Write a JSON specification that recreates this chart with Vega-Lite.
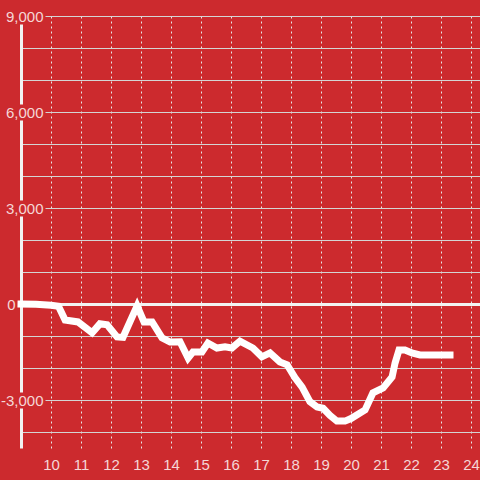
{
  "$schema": "https://vega.github.io/schema/vega-lite/v6.json",
  "width": 459,
  "height": 432,
  "autosize": {"type": "none"},
  "padding": {"left": 21, "top": 16, "right": 0, "bottom": 32},
  "background": "#cc2a2e",
  "config": {
    "view": {"stroke": null},
    "font": "Liberation Sans"
  },
  "data": {
    "values": [
      {"h": 9.0, "v": 0},
      {"h": 9.5, "v": -10},
      {"h": 10.0, "v": -40},
      {"h": 10.25, "v": -70},
      {"h": 10.47, "v": -500},
      {"h": 10.9, "v": -560},
      {"h": 11.37, "v": -900},
      {"h": 11.63, "v": -620},
      {"h": 11.87, "v": -650},
      {"h": 12.2, "v": -1030},
      {"h": 12.4, "v": -1040},
      {"h": 12.87, "v": -60},
      {"h": 13.1, "v": -560},
      {"h": 13.37, "v": -560},
      {"h": 13.7, "v": -1060},
      {"h": 13.97, "v": -1190},
      {"h": 14.3, "v": -1180},
      {"h": 14.57, "v": -1690},
      {"h": 14.73, "v": -1500},
      {"h": 15.03, "v": -1500},
      {"h": 15.23, "v": -1220},
      {"h": 15.53, "v": -1375},
      {"h": 15.8, "v": -1340},
      {"h": 16.03, "v": -1375},
      {"h": 16.3, "v": -1160},
      {"h": 16.73, "v": -1375},
      {"h": 17.03, "v": -1650},
      {"h": 17.3, "v": -1530},
      {"h": 17.63, "v": -1810},
      {"h": 17.87, "v": -1900},
      {"h": 18.13, "v": -2300},
      {"h": 18.37, "v": -2600},
      {"h": 18.63, "v": -3050},
      {"h": 18.87, "v": -3220},
      {"h": 19.07, "v": -3260},
      {"h": 19.3, "v": -3480},
      {"h": 19.53, "v": -3660},
      {"h": 19.8, "v": -3660},
      {"h": 20.0, "v": -3580},
      {"h": 20.47, "v": -3310},
      {"h": 20.73, "v": -2780},
      {"h": 21.07, "v": -2625},
      {"h": 21.37, "v": -2280},
      {"h": 21.47, "v": -1840},
      {"h": 21.6, "v": -1440},
      {"h": 21.8, "v": -1440},
      {"h": 22.03, "v": -1530},
      {"h": 22.3, "v": -1590},
      {"h": 23.3, "v": -1590}
    ]
  },
  "mark": {"type": "line", "color": "#ffffff", "strokeWidth": 7, "strokeCap": "square", "strokeJoin": "miter"},
  "encoding": {
    "x": {
      "field": "h",
      "type": "quantitative",
      "scale": {"domain": [9, 24.3], "nice": false, "zero": false},
      "axis": {
        "title": null,
        "values": [10, 11, 12, 13, 14, 15, 16, 17, 18, 19, 20, 21, 22, 23, 24],
        "domain": false,
        "ticks": false,
        "tickSize": 0,
        "labelPadding": 9,
        "labelFontSize": 15,
        "labelColor": "#f5d6d6",
        "labelFont": "Liberation Sans",
        "grid": true,
        "gridColor": "#e6e6e6",
        "gridDash": [2, 3],
        "gridWidth": 1
      }
    },
    "y": {
      "field": "v",
      "type": "quantitative",
      "scale": {"domain": [-4500, 9000], "nice": false, "zero": false},
      "axis": {
        "title": null,
        "values": [-4000, -3000, -2000, -1000, 0, 1000, 2000, 3000, 4000, 5000, 6000, 7000, 8000, 9000],
        "labelExpr": "datum.value === 9000 ? '9,000' : datum.value === 6000 ? '6,000' : datum.value === 3000 ? '3,000' : datum.value === 0 ? '0' : datum.value === -3000 ? '-3,000' : ''",
        "domain": true,
        "domainColor": "#f2f2f2",
        "domainWidth": 3,
        "domainDash": [40, 16, 176, 16, 80, 16, 80, 100],
        "ticks": false,
        "tickSize": 0,
        "labelAlign": "right",
        "labelBaseline": "middle",
        "labelPadding": {"condition": {"test": "datum.value === 0", "value": 6}, "value": -22},
        "labelFontSize": 15,
        "labelColor": "#f5d6d6",
        "labelFont": "Liberation Sans",
        "grid": true,
        "gridColor": {"condition": {"test": "datum.value === 0", "value": "#f2f2f2"}, "value": "#d4d4d4"},
        "gridWidth": {"condition": {"test": "datum.value === 0", "value": 3}, "value": 1},
        "gridDash": {"condition": {"test": "datum.value !== 0 && datum.value % 3000 === 0", "value": [0, 24, 1000, 0]}, "value": []}
      }
    }
  }
}
